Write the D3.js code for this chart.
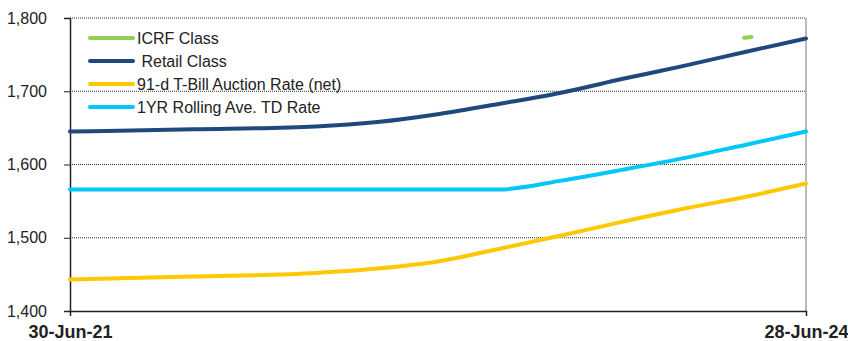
<!DOCTYPE html>
<html>
<head>
<meta charset="utf-8">
<script src="https://cdn.jsdelivr.net/npm/d3@7"></script>
<style>
  body { margin: 0; background: #fff; }
  text { font-family: "Liberation Sans", Arial, sans-serif; }
</style>
</head>
<body>
<div class="canvas"></div>
<script>
// data
const dates = ['2021-06-30', '2021-12-31', '2022-06-30', '2022-09-30', '2022-12-31',
  '2023-03-31', '2023-06-30', '2023-09-30', '2023-12-31', '2024-03-31', '2024-06-28'];
const retailValues = [1645, 1648, 1652, 1658, 1669, 1683, 1698, 1717, 1735, 1754, 1772];
const tbillValues  = [1443, 1447, 1452, 1458, 1468, 1485, 1503, 1522, 1540, 1556, 1574];
const tdValues     = [1566, 1566, 1566, 1566, 1566, 1566, 1578, 1593, 1609, 1627, 1645];
const icrfDates = ['2024-03-28', '2024-04-08'];
const icrfValues = [1773, 1774];
const yTicks = [1400, 1500, 1600, 1700, 1800];
const xTickLabels = ['30-Jun-21', '28-Jun-24'];

const parse = d3.timeParse('%Y-%m-%d');
const fmt = d3.format(',');

const series = [
  { name: 'ICRF Class', color: '#92d050', pts: icrfDates.map((d, i) => ({ date: parse(d), value: icrfValues[i] })) },
  { name: ' Retail Class', color: '#1f497d', pts: dates.map((d, i) => ({ date: parse(d), value: retailValues[i] })) },
  { name: '91-d T-Bill Auction Rate (net)', color: '#ffc800', pts: dates.map((d, i) => ({ date: parse(d), value: tbillValues[i] })) },
  { name: '1YR Rolling Ave. TD Rate', color: '#00c8f8', pts: dates.map((d, i) => ({ date: parse(d), value: tdValues[i] })) }
];

// create svg
const svg = d3.select('.canvas')
  .append('svg')
    .attr('width', 848)
    .attr('height', 341);

const margin = { left: 70, right: 42, top: 18, bottom: 30 };
const width = 848 - margin.left - margin.right;
const height = 341 - margin.top - margin.bottom;

const g = svg.append('g').attr('transform', `translate(${margin.left},${margin.top})`);

const x = d3.scaleTime()
  .domain([parse(dates[0]), parse(dates[dates.length - 1])])
  .range([0, width]);
const y = d3.scaleLinear().domain([1400, 1800]).range([height, 0]);

// dotted gridlines
g.selectAll('.grid')
  .data(yTicks.slice(1))
  .enter().append('line')
    .attr('x1', 0).attr('x2', width)
    .attr('y1', d => y(d)).attr('y2', d => y(d))
    .attr('stroke', '#333')
    .attr('stroke-width', 1)
    .attr('stroke-dasharray', '1,1');

// right border
g.append('line')
  .attr('x1', width).attr('x2', width)
  .attr('y1', 0).attr('y2', height)
  .attr('stroke', '#777');

// y axis
const yAxis = g.append('g')
  .call(d3.axisLeft(y).tickValues(yTicks).tickFormat(fmt).tickSize(6).tickPadding(17));
yAxis.select('.domain').attr('stroke', '#222').attr('stroke-width', 1.5);
yAxis.selectAll('.tick line').attr('stroke', '#222');
yAxis.selectAll('text').attr('font-size', 16).attr('fill', '#222')
  .attr('font-family', '"Liberation Sans", Arial, sans-serif');

// x axis
const xAxis = g.append('g')
  .attr('transform', `translate(0,${height})`)
  .call(d3.axisBottom(x).tickValues(x.domain()).tickFormat((d, i) => xTickLabels[i]).tickSize(5).tickPadding(9));
xAxis.select('.domain').attr('stroke', '#222').attr('stroke-width', 1.5);
xAxis.selectAll('.tick line').attr('stroke', '#222');
xAxis.selectAll('text').attr('font-size', 18).attr('font-weight', 'bold').attr('fill', '#222')
  .attr('font-family', '"Liberation Sans", Arial, sans-serif');

// lines
const line = d3.line()
  .x(d => x(d.date))
  .y(d => y(d.value))
  .curve(d3.curveMonotoneX);

g.selectAll('.series')
  .data(series)
  .enter().append('path')
    .attr('d', d => line(d.pts))
    .attr('fill', 'none')
    .attr('stroke', d => d.color)
    .attr('stroke-width', 4)
    .attr('stroke-linecap', 'round');

// legend
const legend = svg.append('g').attr('transform', 'translate(88,38)');
const items = legend.selectAll('g')
  .data(series)
  .enter().append('g')
    .attr('transform', (d, i) => `translate(0,${i * 23})`);
items.append('line')
  .attr('x1', 2).attr('x2', 45)
  .attr('stroke', d => d.color)
  .attr('stroke-width', 4)
  .attr('stroke-linecap', 'round');
items.append('text')
  .attr('x', 49).attr('y', 6)
  .attr('font-size', 16)
  .attr('fill', '#222')
  .style('white-space', 'pre')
  .text(d => d.name);
</script>
</body>
</html>
